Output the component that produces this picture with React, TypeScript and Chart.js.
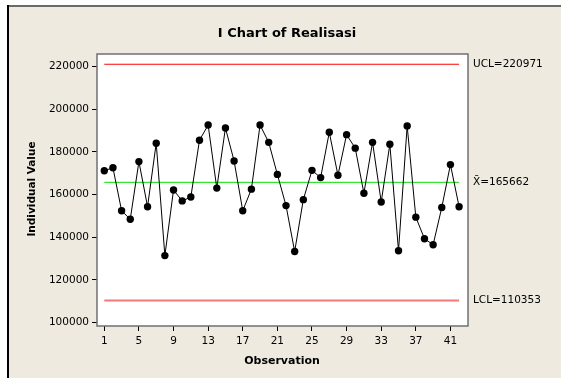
import React, { useEffect, useRef } from "react";
import { Chart, registerables } from "chart.js";

Chart.register(...registerables);

const observations = [
  1, 2, 3, 4, 5, 6, 7, 8, 9, 10, 11, 12, 13, 14, 15, 16, 17, 18, 19, 20, 21,
  22, 23, 24, 25, 26, 27, 28, 29, 30, 31, 32, 33, 34, 35, 36, 37, 38, 39, 40, 41, 42,
];
const realisasi = [
  171100, 172500, 152400, 148400, 175400, 154300, 184000, 131400, 162100, 157000,
  158800, 185400, 192500, 163000, 191100, 175700, 152400, 162500, 192500, 184400,
  169400, 154800, 133300, 157600, 171300, 167900, 189100, 169000, 188000, 181700,
  160600, 184400, 156500, 183500, 133700, 192100, 149400, 139300, 136500, 153900,
  174000, 154300,
];
const UCL = 220971;
const CENTER = 165662;
const LCL = 110353;
const controlLabels = ["UCL=220971", "X\u0304=165662", "LCL=110353"];
const xTickValues = [1, 5, 9, 13, 17, 21, 25, 29, 33, 37, 41];
const yTickValues = [100000, 120000, 140000, 160000, 180000, 200000, 220000];
const chartTitle = "I Chart of Realisasi";
const xTitle = "Observation";
const yTitle = "Individual Value";

const FONT = "'DejaVu Sans', sans-serif";

const decor = {
  id: "decor",
  beforeDraw(chart: any) {
    const { ctx, width, height, chartArea: a } = chart;
    ctx.save();
    ctx.fillStyle = "#ffffff";
    ctx.fillRect(0, 0, width, height);
    ctx.fillStyle = "#EEEAE0";
    ctx.fillRect(7, 5, width - 7, height - 5);
    ctx.fillStyle = "#6a6a6a";
    ctx.fillRect(7, 5, width - 7, 2);
    ctx.fillStyle = "#000000";
    ctx.fillRect(7, 5, 2, height - 5);
    ctx.fillStyle = "#ffffff";
    ctx.fillRect(a.left, a.top, a.right - a.left, a.bottom - a.top);
    ctx.restore();
  },
  afterDraw(chart: any) {
    const { ctx, chartArea: a, scales } = chart;
    const y = scales.y;
    ctx.save();
    ctx.strokeStyle = "#707070";
    ctx.lineWidth = 1.5;
    ctx.strokeRect(a.left, a.top, a.right - a.left, a.bottom - a.top);

    ctx.fillStyle = "#000";
    ctx.textAlign = "center";
    ctx.textBaseline = "middle";
    ctx.font = `bold 13px ${FONT}`;
    ctx.fillText(chartTitle, 287, 34);
    ctx.font = `bold 11px ${FONT}`;
    ctx.fillText(xTitle, 282, 361);
    ctx.save();
    ctx.translate(32, 189);
    ctx.rotate(-Math.PI / 2);
    ctx.font = `bold 10.5px ${FONT}`;
    ctx.fillText(yTitle, 0, 0);
    ctx.restore();

    ctx.font = `10.5px ${FONT}`;
    ctx.textAlign = "left";
    const vals = [UCL, CENTER, LCL];
    vals.forEach((v, i) => {
      ctx.fillText(controlLabels[i], a.right + 5, y.getPixelForValue(v));
    });
    ctx.restore();
  },
};

export default function App() {
  const ref = useRef<HTMLCanvasElement | null>(null);
  useEffect(() => {
    if (!ref.current) return;
    const first = observations[0];
    const last = observations[observations.length - 1];
    const chart = new Chart(ref.current, {
      type: "scatter",
      data: {
        datasets: [
          {
            label: "Realisasi",
            data: observations.map((o, i) => ({ x: o, y: realisasi[i] })),
            showLine: true,
            borderColor: "#000",
            backgroundColor: "#000",
            borderWidth: 1,
            pointRadius: 3.7,
            pointBorderWidth: 0,
          },
          {
            label: "UCL",
            data: [{ x: first, y: UCL }, { x: last, y: UCL }],
            showLine: true,
            borderColor: "#ff0000",
            borderWidth: 1.2,
            pointRadius: 0,
          },
          {
            label: "Mean",
            data: [{ x: first, y: CENTER }, { x: last, y: CENTER }],
            showLine: true,
            borderColor: "#33e633",
            borderWidth: 1.2,
            pointRadius: 0,
          },
          {
            label: "LCL",
            data: [{ x: first, y: LCL }, { x: last, y: LCL }],
            showLine: true,
            borderColor: "#f47878",
            borderWidth: 2,
            pointRadius: 0,
          },
        ],
      },
      options: {
        animation: false,
        responsive: true,
        maintainAspectRatio: false,
        layout: { padding: { left: 0, top: 54, right: 93, bottom: 0 } },
        plugins: {
          legend: { display: false },
          title: { display: false },
          tooltip: { enabled: false },
        },
        scales: {
          x: {
            type: "linear",
            min: 0.157,
            max: 43.03,
            afterBuildTicks: (s: any) => {
              s.ticks = xTickValues.map((v) => ({ value: v }));
            },
            afterFit: (s: any) => {
              s.height = 52;
            },
            grid: {
              drawOnChartArea: false,
              drawTicks: true,
              tickLength: 5,
              color: "#000",
            },
            border: { display: false },
            ticks: {
              color: "#000",
              font: { family: FONT, size: 10.5 },
              padding: 4,
              maxRotation: 0,
              autoSkip: false,
              callback: (v: any) => String(v),
            },
          },
          y: {
            type: "linear",
            min: 98450,
            max: 225760,
            afterBuildTicks: (s: any) => {
              s.ticks = yTickValues.map((v) => ({ value: v }));
            },
            afterFit: (s: any) => {
              s.width = 97;
            },
            grid: {
              drawOnChartArea: false,
              drawTicks: true,
              tickLength: 5,
              color: "#000",
            },
            border: { display: false },
            ticks: {
              color: "#000",
              font: { family: FONT, size: 10.5 },
              padding: 3,
              autoSkip: false,
              callback: (v: any) => String(v),
            },
          },
        },
      },
      plugins: [decor],
    });
    return () => chart.destroy();
  }, []);

  return (
    <div style={{ position: "fixed", left: 0, top: 0, width: 561, height: 378 }}>
      <canvas ref={ref} />
    </div>
  );
}
